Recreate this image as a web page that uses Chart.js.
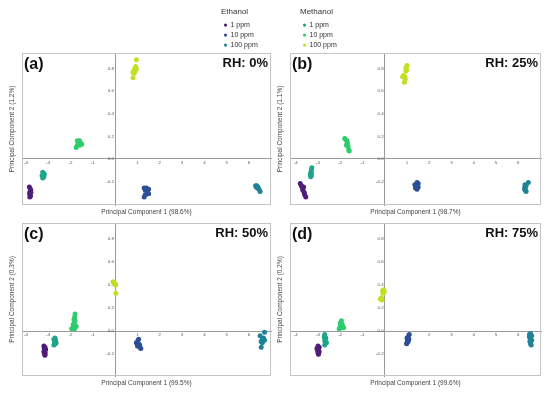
<!DOCTYPE html>
<html>
<head>
<meta charset="utf-8">
<title>PCA score plots - ethanol / methanol</title>
<script src="https://cdn.jsdelivr.net/npm/chart.js@4.4.1/dist/chart.umd.min.js"></script>
<style>
  body { margin: 0; background: #fff; }
  #wrap { position: relative; width: 550px; height: 393px; overflow: hidden; }
  #wrap canvas { position: absolute; }
</style>
</head>
<body>
<div id="wrap">
  <canvas id="panelA" width="275" height="172" style="left:0;top:48px"></canvas>
  <canvas id="panelB" width="275" height="172" style="left:275px;top:48px"></canvas>
  <canvas id="panelC" width="275" height="172" style="left:0;top:218px"></canvas>
  <canvas id="panelD" width="275" height="172" style="left:275px;top:218px"></canvas>
  <canvas id="legEth" width="90" height="60" style="left:221px;top:1px"></canvas>
  <canvas id="legMeth" width="90" height="60" style="left:300px;top:1px"></canvas>
</div>
<script>
// Series / legend
const seriesNames = ['1 ppm', '10 ppm', '100 ppm'];
const ethanolColors = ['#4f1d78', '#2c4f95', '#1e8495'];
const methanolColors = ['#1ea58a', '#2ecc6a', '#c2df23'];

// Panel labels
const panelTags = ['(a)', '(b)', '(c)', '(d)'];
const rhLabels = ['RH: 0%', 'RH: 25%', 'RH: 50%', 'RH: 75%'];
const pc1Labels = ['Principal Component 1 (98.6%)', 'Principal Component 1 (98.7%)',
                   'Principal Component 1 (99.5%)', 'Principal Component 1 (99.6%)'];
const pc2Labels = ['Principal Component 2 (1.2%)', 'Principal Component 2 (1.1%)',
                   'Principal Component 2 (0.3%)', 'Principal Component 2 (0.2%)'];

// Tick labels
const xTickValues = [-4, -3, -2, -1, 0, 1, 2, 3, 4, 5, 6];
const yTickValues = [-0.2, 0, 0.2, 0.4, 0.6, 0.8];

// (a) RH 0%
const aEth1 = [[-3.85,-0.25],[-3.8,-0.27],[-3.79,-0.28],[-3.82,-0.29],[-3.78,-0.30],[-3.84,-0.31],[-3.8,-0.33],[-3.83,-0.34]];
const aEth10 = [[1.3,-0.26],[1.4,-0.26],[1.5,-0.27],[1.35,-0.28],[1.45,-0.30],[1.5,-0.31],[1.45,-0.31],[1.35,-0.32],[1.3,-0.34]];
const aEth100 = [[6.3,-0.24],[6.35,-0.24],[6.33,-0.25],[6.4,-0.25],[6.38,-0.26],[6.45,-0.27],[6.5,-0.29]];
const aMeth1 = [[-3.25,-0.12],[-3.2,-0.13],[-3.22,-0.14],[-3.18,-0.14],[-3.28,-0.15],[-3.2,-0.16],[-3.25,-0.17]];
const aMeth10 = [[-1.7,0.16],[-1.6,0.16],[-1.65,0.15],[-1.55,0.14],[-1.65,0.13],[-1.5,0.13],[-1.7,0.12],[-1.6,0.12],[-1.75,0.10]];
const aMeth100 = [[0.95,0.88],[0.92,0.82],[0.9,0.81],[0.95,0.80],[0.85,0.79],[0.9,0.78],[0.8,0.77],[0.85,0.76],[0.8,0.72]];

// (b) RH 25%
const bEth1 = [[-3.8,-0.22],[-3.75,-0.24],[-3.65,-0.25],[-3.7,-0.26],[-3.68,-0.28],[-3.62,-0.30],[-3.6,-0.32],[-3.55,-0.34]];
const bEth10 = [[1.45,-0.21],[1.5,-0.22],[1.35,-0.23],[1.42,-0.24],[1.5,-0.25],[1.4,-0.25],[1.38,-0.26],[1.45,-0.27]];
const bEth100 = [[6.45,-0.21],[6.3,-0.23],[6.35,-0.24],[6.3,-0.25],[6.3,-0.26],[6.28,-0.27],[6.33,-0.28],[6.35,-0.29]];
const bMeth1 = [[-3.28,-0.08],[-3.3,-0.10],[-3.32,-0.12],[-3.3,-0.13],[-3.35,-0.14],[-3.3,-0.15],[-3.33,-0.16]];
const bMeth10 = [[-1.8,0.18],[-1.75,0.17],[-1.7,0.16],[-1.68,0.14],[-1.7,0.13],[-1.72,0.12],[-1.65,0.11],[-1.62,0.08],[-1.6,0.07]];
const bMeth100 = [[1.0,0.83],[0.95,0.81],[0.98,0.79],[0.95,0.78],[0.85,0.74],[0.9,0.73],[0.8,0.73],[0.92,0.71],[0.88,0.68]];

// (c) RH 50%
const cEth1 = [[-3.2,-0.13],[-3.15,-0.14],[-3.18,-0.15],[-3.12,-0.16],[-3.16,-0.17],[-3.2,-0.18],[-3.14,-0.19],[-3.16,-0.20],[-3.15,-0.21]];
const cEth10 = [[1.05,-0.07],[1.0,-0.09],[0.95,-0.10],[1.05,-0.11],[1.1,-0.12],[1.0,-0.13],[1.1,-0.14],[1.15,-0.15]];
const cEth100 = [[6.7,-0.01],[6.5,-0.04],[6.65,-0.06],[6.6,-0.07],[6.7,-0.08],[6.55,-0.09],[6.6,-0.10],[6.55,-0.14]];
const cMeth1 = [[-2.7,-0.06],[-2.75,-0.07],[-2.68,-0.08],[-2.72,-0.09],[-2.65,-0.10],[-2.7,-0.11],[-2.68,-0.11],[-2.75,-0.12]];
const cMeth10 = [[-1.8,0.15],[-1.82,0.12],[-1.85,0.10],[-1.8,0.09],[-1.88,0.06],[-1.78,0.05],[-1.75,0.04],[-1.9,0.03],[-1.82,0.02],[-1.95,0.02]];
const cMeth100 = [[-0.1,0.43],[-0.05,0.42],[0.0,0.41],[0.02,0.40],[0.03,0.33]];

// (d) RH 75%
const dEth1 = [[-3.0,-0.13],[-2.95,-0.14],[-3.05,-0.15],[-2.98,-0.16],[-3.02,-0.17],[-2.95,-0.18],[-3.0,-0.19],[-2.98,-0.20]];
const dEth10 = [[1.1,-0.03],[1.05,-0.05],[1.0,-0.06],[1.08,-0.07],[1.02,-0.08],[1.05,-0.09],[1.0,-0.10],[0.98,-0.11]];
const dEth100 = [[6.55,-0.02],[6.5,-0.03],[6.6,-0.04],[6.5,-0.05],[6.55,-0.07],[6.6,-0.08],[6.52,-0.09],[6.55,-0.11],[6.58,-0.12]];
const dMeth1 = [[-2.7,-0.03],[-2.72,-0.05],[-2.65,-0.06],[-2.7,-0.08],[-2.68,-0.09],[-2.62,-0.10],[-2.7,-0.12]];
const dMeth10 = [[-1.95,0.09],[-2.0,0.07],[-1.92,0.06],[-2.0,0.05],[-1.9,0.04],[-1.95,0.03],[-1.85,0.03],[-2.05,0.02]];
const dMeth100 = [[-0.05,0.36],[-0.1,0.35],[-0.02,0.34],[-0.08,0.33],[-0.15,0.29],[-0.2,0.28],[-0.12,0.27]];

Chart.defaults.font.family = "'Liberation Sans', Arial, sans-serif";
Chart.defaults.color = '#444';

// frame + "(a)" / "RH" labels inside each panel
const panelDecor = {
  id: 'panelDecor',
  beforeDatasetsDraw(chart) {
    const a = chart.chartArea, ctx = chart.ctx;
    ctx.save();
    ctx.strokeStyle = '#c4c4c4';
    ctx.lineWidth = 1;
    ctx.strokeRect(a.left + 0.5, a.top + 0.5, a.width - 1, a.height - 1);
    ctx.restore();
  },
  afterDraw(chart, args, opts) {
    const a = chart.chartArea, ctx = chart.ctx;
    ctx.save();
    ctx.fillStyle = '#111';
    ctx.textBaseline = 'alphabetic';
    ctx.font = "bold 16px 'Liberation Sans', Arial, sans-serif";
    ctx.textAlign = 'left';
    ctx.fillText(opts.tag, a.left + 2, a.top + 15.5);
    ctx.font = "bold 13px 'Liberation Sans', Arial, sans-serif";
    ctx.textAlign = 'right';
    ctx.fillText(opts.rh, a.right - 3, a.top + 14);
    ctx.restore();
  }
};

function toPoints(arr) {
  return arr.map(p => ({x: p[0], y: p[1]}));
}

function makePanel(id, idx, series, xMin, xMax, yMin, yMax, pad) {
  const colors = ethanolColors.concat(methanolColors);
  const names = seriesNames.map(n => 'Ethanol ' + n).concat(seriesNames.map(n => 'Methanol ' + n));
  new Chart(document.getElementById(id), {
    type: 'scatter',
    data: {
      datasets: series.map((s, i) => ({
        label: names[i],
        data: toPoints(s),
        backgroundColor: colors[i],
        borderWidth: 0,
        pointRadius: 2.5
      }))
    },
    options: {
      responsive: false,
      animation: false,
      layout: { padding: { top: pad.top, right: pad.right, left: 0, bottom: 0 } },
      plugins: {
        legend: { display: false },
        tooltip: { enabled: false },
        title: {
          display: true, position: 'bottom', fullSize: false,
          text: pc1Labels[idx], color: '#444',
          font: { size: 6.5, weight: 'normal', lineHeight: 1.2 },
          padding: { top: pad.xtTop, bottom: pad.xtBottom }
        },
        subtitle: {
          display: true, position: 'left', fullSize: false,
          text: pc2Labels[idx], color: '#444',
          font: { size: 6.5, lineHeight: 1.2 },
          padding: { top: pad.ytTop, bottom: pad.ytBottom }
        },
        panelDecor: { tag: panelTags[idx], rh: rhLabels[idx] }
      },
      scales: {
        x: {
          type: 'linear', min: xMin, max: xMax,
          position: { y: 0 },
          grid: { display: false, drawTicks: false },
          border: { color: '#9a9a9a', width: 1 },
          afterBuildTicks: s => { s.ticks = xTickValues.map(v => ({value: v})); },
          ticks: {
            autoSkip: false, maxRotation: 0, padding: 1, color: '#555',
            font: { size: 4.4 },
            callback: v => (v === 0 ? '' : String(v))
          }
        },
        y: {
          type: 'linear', min: yMin, max: yMax,
          position: { x: 0 },
          grid: { display: false, drawTicks: false },
          border: { color: '#9a9a9a', width: 1 },
          afterBuildTicks: s => { s.ticks = yTickValues.map(v => ({value: v})); },
          ticks: {
            autoSkip: false, padding: 1.5, color: '#555',
            font: { size: 4.4 },
            callback: v => Number(v).toFixed(1) + ' '
          }
        }
      }
    },
    plugins: [panelDecor]
  });
}

makePanel('panelA', 0, [aEth1, aEth10, aEth100, aMeth1, aMeth10, aMeth100], -4.18, 6.99, -0.41, 0.94,
  { top: 5, right: 4, xtTop: 3.1, xtBottom: 4.1, ytTop: 8.2, ytBottom: 6 });
makePanel('panelB', 1, [bEth1, bEth10, bEth100, bMeth1, bMeth10, bMeth100], -4.26, 7.02, -0.41, 0.94,
  { top: 5, right: 9, xtTop: 3.1, xtBottom: 4.1, ytTop: 1.1, ytBottom: 6.1 });
makePanel('panelC', 2, [cEth1, cEth10, cEth100, cMeth1, cMeth10, cMeth100], -4.18, 6.99, -0.39, 0.94,
  { top: 5, right: 4, xtTop: 3.1, xtBottom: 3.1, ytTop: 8.2, ytBottom: 6 });
makePanel('panelD', 3, [dEth1, dEth10, dEth100, dMeth1, dMeth10, dMeth100], -4.26, 7.02, -0.39, 0.94,
  { top: 5, right: 9, xtTop: 3.1, xtBottom: 3.1, ytTop: 1.1, ytBottom: 6.1 });

// legends: one small chart per solvent, only its legend is visible
function makeLegend(id, title, colors) {
  new Chart(document.getElementById(id), {
    type: 'scatter',
    data: {
      datasets: seriesNames.map((n, i) => ({
        label: n, data: [], backgroundColor: colors[i], borderWidth: 0, pointStyle: 'circle'
      }))
    },
    options: {
      responsive: false,
      animation: false,
      scales: { x: { display: false }, y: { display: false } },
      plugins: {
        tooltip: { enabled: false },
        legend: {
          position: 'left', align: 'start',
          title: { display: true, text: title, position: 'start', color: '#333',
                   font: { size: 8 }, padding: { top: 7, bottom: 1 } },
          labels: { usePointStyle: true, boxWidth: 3, boxHeight: 2.2, padding: 3,
                    color: '#333', font: { size: 7 } }
        }
      }
    }
  });
}

makeLegend('legEth', 'Ethanol', ethanolColors);
makeLegend('legMeth', 'Methanol', methanolColors);
</script>
</body>
</html>
